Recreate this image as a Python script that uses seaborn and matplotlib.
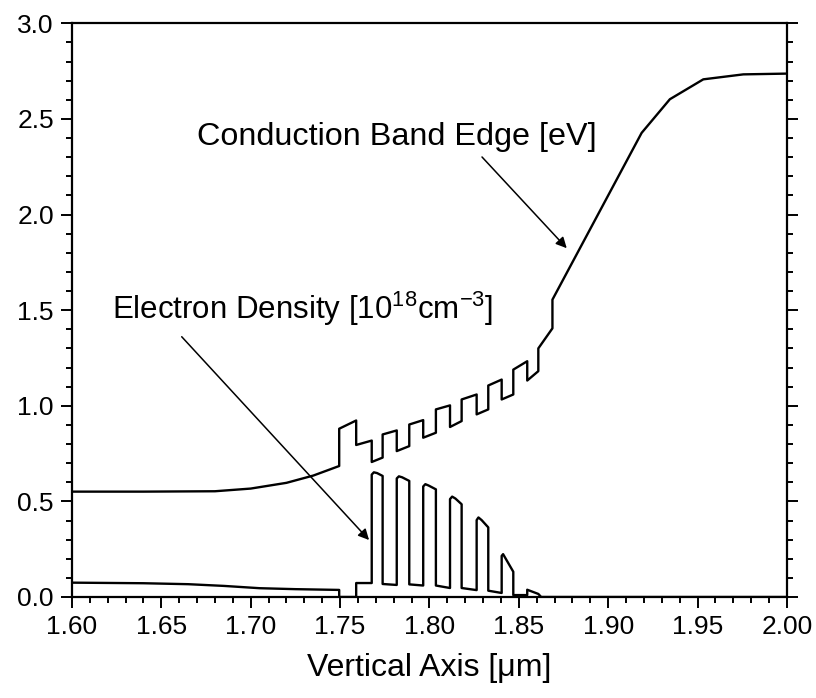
import numpy as np
import matplotlib
matplotlib.use("Agg")
import matplotlib.pyplot as plt
import seaborn as sns

# Conduction band edge [eV]
cb_x = [1.600, 1.640, 1.680, 1.700, 1.720, 1.735, 1.7495, 1.7495, 1.759, 1.759, 1.7677,
        1.7677, 1.7738, 1.7738, 1.7817, 1.7817, 1.7887, 1.7887, 1.7965, 1.7965, 1.8036,
        1.8036, 1.8115, 1.8115, 1.8180, 1.8180, 1.8264, 1.8264, 1.8329, 1.8329, 1.8404,
        1.8404, 1.8469, 1.8469, 1.8547, 1.8547, 1.8609, 1.8609, 1.8688, 1.8688, 1.9187,
        1.9345, 1.9532, 1.9756, 2.000]
cb_y = [0.551, 0.551, 0.553, 0.567, 0.597, 0.635, 0.685, 0.880, 0.923, 0.795, 0.818,
        0.706, 0.729, 0.850, 0.871, 0.763, 0.789, 0.902, 0.925, 0.833, 0.859,
        0.981, 1.002, 0.889, 0.920, 1.033, 1.059, 0.955, 0.981, 1.106, 1.137,
        1.033, 1.059, 1.189, 1.233, 1.132, 1.181, 1.300, 1.405, 1.555, 2.427,
        2.603, 2.707, 2.733, 2.737]

# Electron density [1e18 cm^-3]
ed_x = [1.600, 1.640, 1.665, 1.685, 1.705, 1.725, 1.7495, 1.7495, 1.759, 1.759, 1.7677,
        1.7677, 1.7689, 1.7707, 1.7738, 1.7738,
        1.7817, 1.7817, 1.7829, 1.7847, 1.7887, 1.7887,
        1.7965, 1.7965, 1.7977, 1.7995, 1.8036, 1.8036,
        1.8115, 1.8115, 1.8127, 1.8145, 1.8180, 1.8180,
        1.8264, 1.8264, 1.8274, 1.8292, 1.8329, 1.8329,
        1.8404, 1.8404, 1.8412, 1.8469, 1.8469,
        1.8547, 1.8547, 1.8609, 1.8625, 2.000]
ed_y = [0.075, 0.072, 0.067, 0.058, 0.046, 0.041, 0.037, 0.0, 0.0, 0.073, 0.073,
        0.640, 0.652, 0.648, 0.633, 0.068,
        0.063, 0.620, 0.631, 0.626, 0.607, 0.066,
        0.060, 0.578, 0.590, 0.583, 0.563, 0.060,
        0.047, 0.512, 0.525, 0.515, 0.485, 0.047,
        0.036, 0.402, 0.416, 0.402, 0.364, 0.033,
        0.021, 0.215, 0.224, 0.132, 0.010,
        0.010, 0.038, 0.016, 0.0, 0.0]

x_ticks = [1.60, 1.65, 1.70, 1.75, 1.80, 1.85, 1.90, 1.95, 2.00]
x_tick_labels = ["1.60", "1.65", "1.70", "1.75", "1.80", "1.85", "1.90", "1.95", "2.00"]
y_ticks = [0.0, 0.5, 1.0, 1.5, 2.0, 2.5, 3.0]
y_tick_labels = ["0.0", "0.5", "1.0", "1.5", "2.0", "2.5", "3.0"]

sns.set_style("white")
plt.rcParams["font.family"] = ["Liberation Sans", "DejaVu Sans"]
plt.rcParams["mathtext.default"] = "regular"
plt.rcParams["text.color"] = "black"
plt.rcParams["axes.labelcolor"] = "black"

fig = plt.figure(figsize=(8.16, 6.98), dpi=100)
ax = fig.add_axes([0.0882, 0.1447, 0.8762, 0.8219])

sns.lineplot(x=cb_x, y=cb_y, ax=ax, sort=False, estimator=None, color="black", lw=1.7)
sns.lineplot(x=ed_x, y=ed_y, ax=ax, sort=False, estimator=None, color="black", lw=1.7)

ax.set_xlim(1.60, 2.00)
ax.set_ylim(0.0, 3.0)
ax.set_xticks(x_ticks)
ax.set_xticklabels(x_tick_labels)
ax.set_xticks(np.arange(1.60, 2.0001, 0.01), minor=True)
ax.set_yticks(y_ticks)
ax.set_yticklabels(y_tick_labels)
ax.set_yticks(np.arange(0.0, 3.0001, 0.1), minor=True)

for s in ax.spines.values():
    s.set_visible(True)
    s.set_color("black")
    s.set_linewidth(1.6)

ax.tick_params(which="both", direction="out", bottom=True, left=True, right=True,
               top=False, labelright=False, colors="black", width=1.4)
ax.tick_params(which="major", length=8, labelsize=19, pad=5)
ax.tick_params(which="minor", length=4.5)

ax.set_xlabel("Vertical Axis [μm]", fontsize=23, labelpad=10)
ax.set_ylabel("")

ax.text(1.6698, 2.364, "Conduction Band Edge [eV]", fontsize=23.3, ha="left", va="baseline")
ax.text(1.6222, 1.452, "Electron Density [10$^{18}$cm$^{-3}$]", fontsize=22.5,
        ha="left", va="baseline")

arrow = dict(arrowstyle="-|>", color="black", lw=1.1, mutation_scale=16, shrinkA=0, shrinkB=0)
ax.annotate("", xy=(1.8768, 1.824), xytext=(1.8294, 2.301), arrowprops=arrow)
ax.annotate("", xy=(1.7662, 0.298), xytext=(1.6614, 1.361), arrowprops=arrow)

fig.savefig("out.png", dpi=100)
